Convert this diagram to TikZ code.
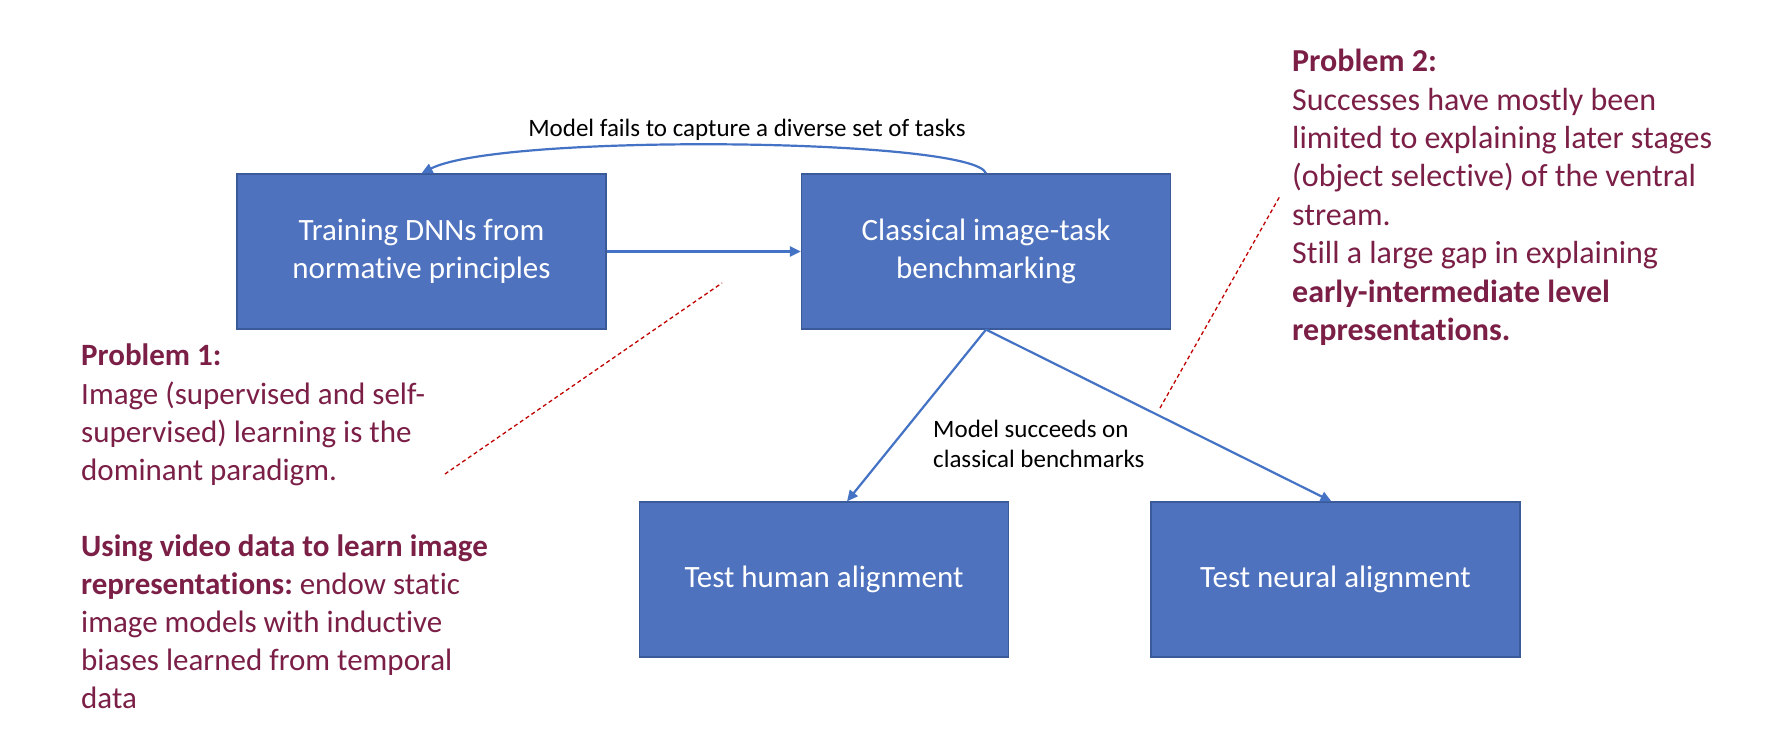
\documentclass[tikz,border=0pt]{standalone}
\usepackage{fontspec}
\setmainfont{Carlito}[Ligatures=NoCommon]
\usetikzlibrary{arrows.meta}
\definecolor{boxfill}{HTML}{4F72BE}
\definecolor{boxline}{HTML}{3A5A9A}
\definecolor{arrowblue}{HTML}{4472C4}
\definecolor{notecol}{HTML}{7B1F47}
\definecolor{dashred}{HTML}{C00000}
\frenchspacing
\begin{document}
\begin{tikzpicture}[x=1pt,y=-1pt,
  box/.style={draw=boxline, line width=1.2pt, fill=boxfill, minimum width=369pt, minimum height=155pt, inner sep=0pt,
              text=white, font=\fontsize{31}{38}\selectfont, align=center},
  arr/.style={draw=arrowblue, line width=2.2pt, -{Triangle[length=11pt,width=10pt]}},
  lbl/.style={font=\fontsize{25}{30}\selectfont, text=black, inner sep=0pt},
  note/.style={text=notecol, align=left, inner sep=0pt, anchor=north west},
  redline/.style={draw=dashred, line width=1.3pt, dash pattern=on 4pt off 3pt}
]
\useasboundingbox (0,0) rectangle (1792,744);
\fill[white] (0,0) rectangle (1792,744);

\node[box] (b1) at (421.5,251.5) {Training DNNs from\\normative principles};
\node[box] (b2) at (986,251.5) {Classical image-task\\benchmarking};
\node[box] (b3) at (824,579.5) {Test human alignment};
\node[box] (b4) at (1335.5,579.5) {Test neural alignment};

\draw[arr] (b1.east) -- (b2.west);
\draw[arr] (b2.north) .. controls (975,138) and (500,133) .. (b1.north);
\draw[arr] (b2.south) -- ([xshift=23pt]b3.north);
\draw[arr] (b2.south) -- ([xshift=-4pt]b4.north);

\node[lbl] (l1) at (747,130) {Model fails to capture a diverse set of tasks};
\node[lbl, align=left, anchor=north west] (l2) at (933,420) {Model succeeds on\\classical benchmarks};

\node[note, font=\fontsize{31}{38.1}\selectfont] (p1) at (81,344) {\textbf{Problem 1:}\\
Image (supervised and self-\\
supervised) learning is the\\
dominant paradigm.\\[38.1pt]
\textbf{Using video data to learn image}\\
\textbf{representations:} endow static\\
image models with inductive\\
biases learned from temporal\\
data};

\node[note, font=\fontsize{32}{38.4}\selectfont] (p2) at (1292,49) {\textbf{Problem 2:}\\
Successes have mostly been\\
limited to explaining later stages\\
(object selective) of the ventral\\
stream.\\
Still a large gap in explaining\\
\textbf{early-intermediate level}\\
\textbf{representations.}};

\coordinate (d1a) at (445,474);
\coordinate (d1b) at (722,283);
\draw[redline] (d1a) -- (d1b);
\coordinate (d2a) at (1160,408);
\coordinate (d2b) at (1280,196);
\draw[redline] (d2a) -- (d2b);
\end{tikzpicture}
\end{document}
